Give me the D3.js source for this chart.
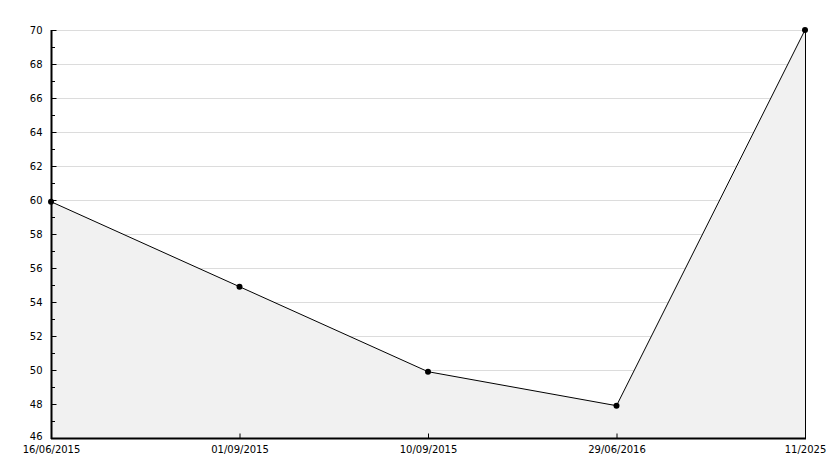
<!DOCTYPE html>
<html><head><meta charset="utf-8">
<script src="https://cdn.jsdelivr.net/npm/d3@7"></script>
<style>body{margin:0;background:#fff}svg text{font-family:"DejaVu Sans",Verdana,sans-serif;font-size:10px;fill:#000}</style>
</head><body><svg id="c" width="834" height="468"></svg>
<script>
const categories = ["16/06/2015","01/09/2015","10/09/2015","29/06/2016","11/2025"];
const values = [59.9, 54.9, 49.9, 47.9, 70];
const yTicks = [46,48,50,52,54,56,58,60,62,64,66,68,70];
const yMinorTicks = [47,49,51,53,55,57,59,61,63,65,67,69];

const svg = d3.select("#c");
const m = {l:51, r:805, t:30, b:438};
const x = d3.scalePoint().domain(categories).range([m.l, m.r]);
const y = d3.scaleLinear().domain([46,70]).range([m.b, m.t]);

// grid
svg.append("g").selectAll("line").data(yTicks.slice(1)).join("line")
  .attr("x1", m.l).attr("x2", m.r).attr("y1", d=>y(d)+0.5).attr("y2", d=>y(d)+0.5)
  .attr("stroke", "#dcdcdc").attr("stroke-width",1);

// area
const area = d3.area().x((d,i)=>x(categories[i])).y0(y(46)).y1(d=>y(d));
svg.append("path").datum(values).attr("d", area).attr("fill", "#f1f1f1");

// right border
svg.append("line").attr("x1", m.r+0.5).attr("x2", m.r+0.5).attr("y1", y(70)).attr("y2", m.b)
  .attr("stroke", "#000");

// line
const line = d3.line().x((d,i)=>x(categories[i])).y(d=>y(d));
svg.append("path").datum(values).attr("d", line).attr("fill","none").attr("stroke","#000").attr("stroke-width",1);

// y axis
const ya = svg.append("g").attr("transform", `translate(${m.l+0.5},0)`)
  .call(d3.axisLeft(y).tickValues(yTicks).tickSize(-5).tickPadding(9).tickFormat(d3.format("d")));
ya.select(".domain").remove();
ya.selectAll(".tick line").attr("stroke","#000");
ya.selectAll(".tick text").attr("fill","#000").style("font-size","10px");
ya.selectAll(".tick text").filter(d=>d===46).attr("dy","0.1em");
svg.append("g").selectAll("line").data(yMinorTicks).join("line")
  .attr("x1", m.l).attr("x2", m.l+4).attr("y1", d=>y(d)+0.5).attr("y2", d=>y(d)+0.5).attr("stroke","#000");
svg.append("line").attr("x1", m.l+0.5).attr("x2", m.l+0.5).attr("y1", m.t).attr("y2", m.b+1).attr("stroke","#000").attr("stroke-width",2);

// x axis
const xa = svg.append("g").attr("transform", `translate(0,${m.b+0.5})`)
  .call(d3.axisBottom(x).tickSize(-5).tickPadding(7));
xa.select(".domain").remove();
xa.selectAll(".tick line").attr("stroke","#000");
xa.selectAll(".tick text").attr("fill","#000").style("font-size","10px");
svg.append("line").attr("x1", m.l).attr("x2", m.r+1).attr("y1", m.b+0.5).attr("y2", m.b+0.5).attr("stroke","#000").attr("stroke-width",2);

// markers
svg.append("g").selectAll("circle").data(values).join("circle")
  .attr("cx",(d,i)=>x(categories[i])).attr("cy",d=>y(d)).attr("r",3).attr("fill","#000");
</script></body></html>
